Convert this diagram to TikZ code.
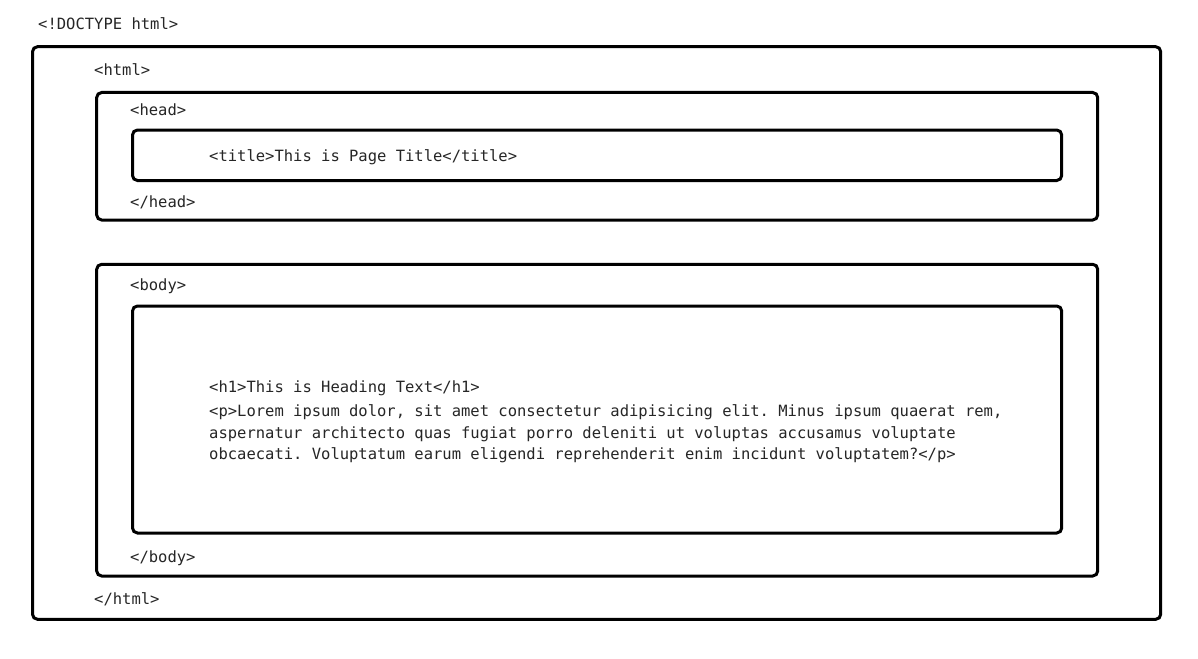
\documentclass[tikz,border=0pt]{standalone}
\usepackage{fontspec}
\setmonofont{DejaVu Sans Mono}
\begin{document}
\begin{tikzpicture}[x=1pt,y=-1pt,
  frame/.style={draw=black,line width=3pt,rounded corners=5pt},
  code/.style={anchor=base west,inner sep=0pt,font=\ttfamily\fontsize{15.5}{21.5}\selectfont,text=black!85}]
\useasboundingbox[fill=white] (0,0) rectangle (1198,658);
% frames
\draw[frame] (32.5,46.7) rectangle (1160.7,619.3);
\draw[frame] (96.7,92.5) rectangle (1097.7,220);
\draw[frame] (132.5,130) rectangle (1061.7,180.5);
\draw[frame] (96.7,264.3) rectangle (1097.7,576);
\draw[frame] (132.5,306) rectangle (1061.7,533);
% texts
\node[code] (doctype) at (38,29.5) {<!DOCTYPE html>};
\node[code] (htmlo) at (94,75.5) {<html>};
\node[code] (heado) at (130,115.5) {<head>};
\node[code] (title) at (209,161.5) {<title>This is Page Title</title>};
\node[code] (headc) at (130,207.5) {</head>};
\node[code] (bodyo) at (130,290.5) {<body>};
\node[code] (hone) at (209,392.5) {<h1>This is Heading Text</h1>};
\node[code] (pa) at (209,416.5) {<p>Lorem ipsum dolor, sit amet consectetur adipisicing elit. Minus ipsum quaerat rem,};
\node[code] (pb) at (209,438) {aspernatur architecto quas fugiat porro deleniti ut voluptas accusamus voluptate};
\node[code] (pc) at (209,459.5) {obcaecati. Voluptatum earum eligendi reprehenderit enim incidunt voluptatem?</p>};
\node[code] (bodyc) at (130,562.5) {</body>};
\node[code] (htmlc) at (94,604.5) {</html>};
\end{tikzpicture}
\end{document}
